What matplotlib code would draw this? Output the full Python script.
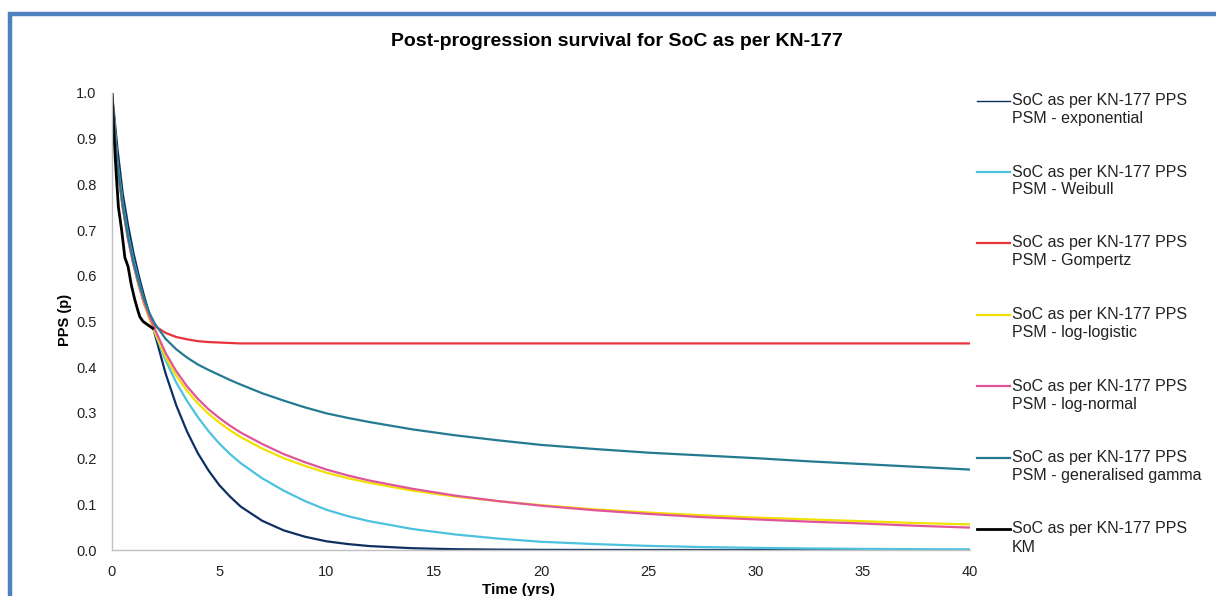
import matplotlib
matplotlib.use("Agg")
import matplotlib.pyplot as plt
from matplotlib.lines import Line2D
from matplotlib.patches import Rectangle

plt.rcParams["font.family"] = ["Liberation Sans", "DejaVu Sans"]

# time grid shared by the fitted curves (years)
T_FIT = [0, 0.25, 0.5, 0.75, 1, 1.25, 1.5, 1.75, 2,
         2.5, 3, 3.5, 4, 4.5, 5, 5.5, 6,
         7, 8, 9, 10, 11, 12,
         14, 16, 18, 20,
         22.5, 25, 27.5, 30, 32.5, 35, 37.5, 40]

EXPONENTIAL = [1.0, 0.88, 0.78, 0.71, 0.65, 0.60, 0.555, 0.515, 0.472,
               0.386, 0.316, 0.259, 0.212, 0.174, 0.142, 0.117, 0.095,
               0.064, 0.043, 0.029, 0.019, 0.013, 0.0086,
               0.0039, 0.0017, 0.0008, 0.0003,
               0.0001, 0, 0, 0, 0, 0, 0, 0]
WEIBULL = [1.0, 0.85, 0.76, 0.69, 0.635, 0.588, 0.545, 0.508, 0.475,
           0.415, 0.366, 0.326, 0.291, 0.260, 0.233, 0.210, 0.190,
           0.157, 0.130, 0.107, 0.088, 0.074, 0.063,
           0.046, 0.034, 0.025, 0.018,
           0.013, 0.009, 0.0065, 0.0047, 0.0034, 0.0025, 0.0018, 0.0013]
GOMPERTZ = [1.0, 0.84, 0.75, 0.68, 0.625, 0.578, 0.538, 0.508, 0.490,
            0.475, 0.466, 0.461, 0.457, 0.455, 0.454, 0.453, 0.452,
            0.452, 0.452, 0.452, 0.452, 0.452, 0.452,
            0.452, 0.452, 0.452, 0.452,
            0.452, 0.452, 0.452, 0.452, 0.452, 0.452, 0.452, 0.452]
LOG_LOGISTIC = [1.0, 0.84, 0.75, 0.68, 0.625, 0.58, 0.54, 0.505, 0.476,
                0.422, 0.381, 0.348, 0.321, 0.298, 0.279, 0.262, 0.247,
                0.222, 0.201, 0.184, 0.169, 0.157, 0.147,
                0.130, 0.117, 0.107, 0.098,
                0.089, 0.082, 0.076, 0.071, 0.067, 0.063, 0.059, 0.056]
LOG_NORMAL = [1.0, 0.84, 0.75, 0.68, 0.625, 0.582, 0.543, 0.51, 0.483,
              0.431, 0.391, 0.358, 0.331, 0.308, 0.289, 0.272, 0.257,
              0.232, 0.210, 0.192, 0.176, 0.163, 0.152,
              0.134, 0.119, 0.107, 0.097,
              0.087, 0.079, 0.072, 0.067, 0.062, 0.058, 0.053, 0.049]
GEN_GAMMA = [1.0, 0.845, 0.755, 0.685, 0.63, 0.585, 0.548, 0.518, 0.495,
             0.462, 0.439, 0.421, 0.406, 0.394, 0.383, 0.372, 0.362,
             0.343, 0.327, 0.312, 0.299, 0.289, 0.280,
             0.264, 0.251, 0.240, 0.230,
             0.221, 0.213, 0.207, 0.201, 0.194, 0.188, 0.182, 0.176]

# Kaplan-Meier
T_KM = [0, 0.1, 0.2, 0.3, 0.45, 0.6, 0.75, 0.9, 1.05, 1.2, 1.3, 1.45, 1.6,
        1.75, 1.9]
KM = [1.0, 0.90, 0.82, 0.75, 0.70, 0.64, 0.62, 0.58, 0.55, 0.525, 0.51, 0.50,
      0.495, 0.49, 0.485]

PREFIX = "SoC as per KN-177 PPS"
SERIES = [
    ("PSM - exponential", T_FIT, EXPONENTIAL, "#0E2F62", 1.6),
    ("PSM - Weibull", T_FIT, WEIBULL, "#4CC2DF", 1.6),
    ("PSM - Gompertz", T_FIT, GOMPERTZ, "#E8333A", 1.6),
    ("PSM - log-logistic", T_FIT, LOG_LOGISTIC, "#F2E000", 1.6),
    ("PSM - log-normal", T_FIT, LOG_NORMAL, "#E0559A", 1.6),
    ("PSM - generalised gamma", T_FIT, GEN_GAMMA, "#247B91", 1.6),
    ("KM", T_KM, KM, "#000000", 2.0),
]

W, H = 1216, 596
fig = plt.figure(figsize=(W / 100, H / 100), dpi=100)
ax = fig.add_axes([112 / W, 1 - 550 / H, (970 - 112) / W, (550 - 93) / H])

for label, t, s, color, lw in SERIES:
    ax.plot(t, s, color=color, lw=lw, solid_joinstyle="round")

ax.set_xlim(0, 40)
ax.set_ylim(0, 1.0)
ax.set_xticks(range(0, 41, 5))
ax.set_yticks([i / 10 for i in range(11)])
ax.set_yticklabels([f"{i / 10:.1f}" for i in range(11)])
ax.tick_params(length=0, labelsize=10.5, pad=11, colors="#222222")
for side in ["top", "right"]:
    ax.spines[side].set_visible(False)
for side in ["left", "bottom"]:
    ax.spines[side].set_color("#C0C0C0")
    ax.spines[side].set_linewidth(1.0)

fig.text(617 / W, 1 - 42 / H, "Post-progression survival for SoC as per KN-177",
         ha="center", va="center", fontsize=14, fontweight="bold")
fig.text(65 / W, 1 - 320 / H, "PPS (p)", rotation=90, ha="center", va="center",
         fontsize=10.5, fontweight="bold")
fig.text(518 / W, 1 - 590 / H, "Time (yrs)", ha="center", va="center",
         fontsize=11, fontweight="bold")

# legend drawn by hand: handle aligned with the first text line
ys = [100.5, 172, 243, 314.5, 386, 457.5, 529]
for (label, t, s, color, lw), y in zip(SERIES, ys):
    handle_lw = 1.0 if label == "PSM - exponential" else lw
    fig.add_artist(Line2D([977 / W, 1010 / W], [1 - y / H, 1 - y / H],
                          color=color, lw=handle_lw, transform=fig.transFigure))
    fig.text(1012 / W, 1 - y / H, PREFIX, ha="left", va="center",
             fontsize=11.5, color="#222222")
    fig.text(1012 / W, 1 - (y + 18) / H, label, ha="left", va="center",
             fontsize=11.5, color="#222222")

# blue frame around the chart
fig.add_artist(Rectangle((10 / W, -0.1), 1.2, 1 - 14 / H + 0.1,
                         transform=fig.transFigure, fill=False,
                         edgecolor="#4F81BD", lw=3.2, clip_on=False))

fig.savefig("out.png", dpi=100)
